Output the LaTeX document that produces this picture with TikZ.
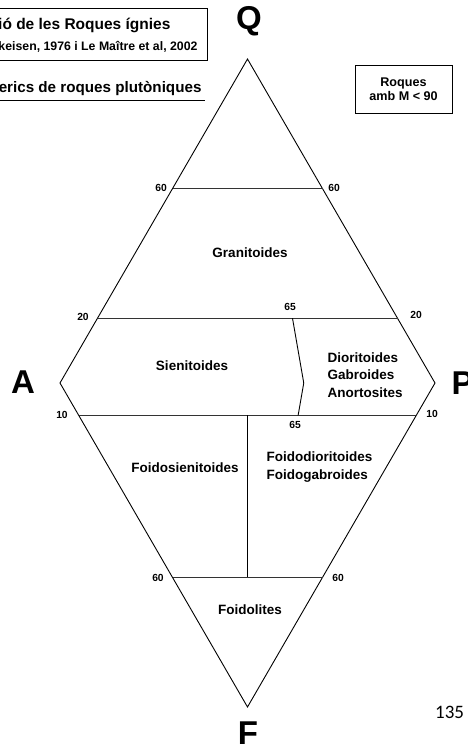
\documentclass[tikz,border=0pt]{standalone}
\usepackage{fontspec}
\setmainfont{Liberation Sans}
\newfontfamily\pagefont{Carlito}
\usetikzlibrary{calc}

\begin{document}
\begin{tikzpicture}[x=1pt, y=-1pt,
    field/.style={font=\bfseries\fontsize{13.5}{17.5}\selectfont, align=left},
    tick/.style={font=\bfseries\fontsize{10.3}{12}\selectfont},
    apex/.style={font=\bfseries\fontsize{33}{36}\selectfont},
    split/.style={line width=1.1pt, black!80}]
    \useasboundingbox (0,0) rectangle (467,745);

    % Corners
    \coordinate (Q) at (247.5,59);
    \coordinate (A) at (60,383);
    \coordinate (P) at (435,383);
    \coordinate (F) at (247.5,707);

    % Outline
    \draw[line width=0.9pt] (Q) -- (P) -- (F) -- (A) -- cycle;

    % Dividing lines
    \coordinate (q60a) at ($(A)!0.6!(Q)$);
    \coordinate (q60p) at ($(P)!0.6!(Q)$);
    \coordinate (q20a) at ($(A)!0.2!(Q)$);
    \coordinate (q20p) at ($(P)!0.2!(Q)$);
    \coordinate (f10a) at ($(A)!0.1!(F)$);
    \coordinate (f10p) at ($(P)!0.1!(F)$);
    \coordinate (f60a) at ($(A)!0.6!(F)$);
    \coordinate (f60p) at ($(P)!0.6!(F)$);
    \draw[split] (q60a) -- (q60p);
    \draw[split] (q20a) -- (q20p);
    \draw[split] (f10a) -- (f10p);
    \draw[split] (f60a) -- (f60p);
    \draw[line width=0.9pt] ($(q20a)!0.65!(q20p)$) -- ($(A)!0.65!(P)$) -- ($(f10a)!0.65!(f10p)$);
    \draw[line width=0.9pt] ($(f10a)!0.5!(f10p)$) -- ($(f60a)!0.5!(f60p)$);

    % Corner letters
    \node[apex] (lQ) at (249,21) {Q};
    \node[apex] (lA) at (23,382) {A};
    \node[apex, anchor=west] (lP) at (448,383) {P};
    \node[apex, anchor=base, inner sep=0pt] (lF) at (248,744.5) {F};

    % Ticks
    \node[tick] (t60l) at (161,188) {60};
    \node[tick] (t60r) at (334,188) {60};
    \node[tick] (t20l) at (83,317) {20};
    \node[tick] (t20r) at (416,315) {20};
    \node[tick] (t65u) at (290,307) {65};
    \node[tick] (t10l) at (62,415) {10};
    \node[tick] (t10r) at (432,414) {10};
    \node[tick] (t65d) at (295,425) {65};
    \node[tick] (b60l) at (158,578) {60};
    \node[tick] (b60r) at (338,578) {60};

    % Fields
    \node[field] (gran) at (250,253) {Granitoides};
    \node[field] (sien) at (192,366) {Sienitoides};
    \node[field, anchor=west] (dior) at (324,375) {Dioritoides\\Gabroides\\Anortosites};
    \node[field] (fsien) at (185,468) {Foidosienitoides};
    \node[field, anchor=west] (fdior) at (263,467) {Foidodioritoides\\Foidogabroides};
    \node[field] (foid) at (250,610) {Foidolites};

    % Title boxes
    \draw[line width=0.9pt] (-5,8) rectangle (207,60);
    \node[anchor=east, font=\bfseries\fontsize{15.5}{18}\selectfont] (ttl) at (174,25) {ió de les Roques ígnies};
    \node[anchor=east, font=\bfseries\fontsize{12.3}{14}\selectfont] (src) at (201,47) {keisen, 1976 i Le Maître et al, 2002};
    \node[anchor=east, font=\bfseries\fontsize{15.2}{18}\selectfont] (sub) at (205,88) {erics de roques plutòniques};
    \draw[line width=0.9pt] (-5,100) -- (205,100);
    \node[draw, line width=0.9pt, minimum width=97pt, minimum height=48pt, align=center,
          font=\bfseries\fontsize{12.6}{14}\selectfont] (mbox) at (403.5,89) {Roques\\amb M < 90};

    % Page number
    \node[anchor=base west, inner sep=0pt, font=\pagefont\fontsize{19}{22}\selectfont] (pg) at (435,718) {135};
\end{tikzpicture}
\end{document}
